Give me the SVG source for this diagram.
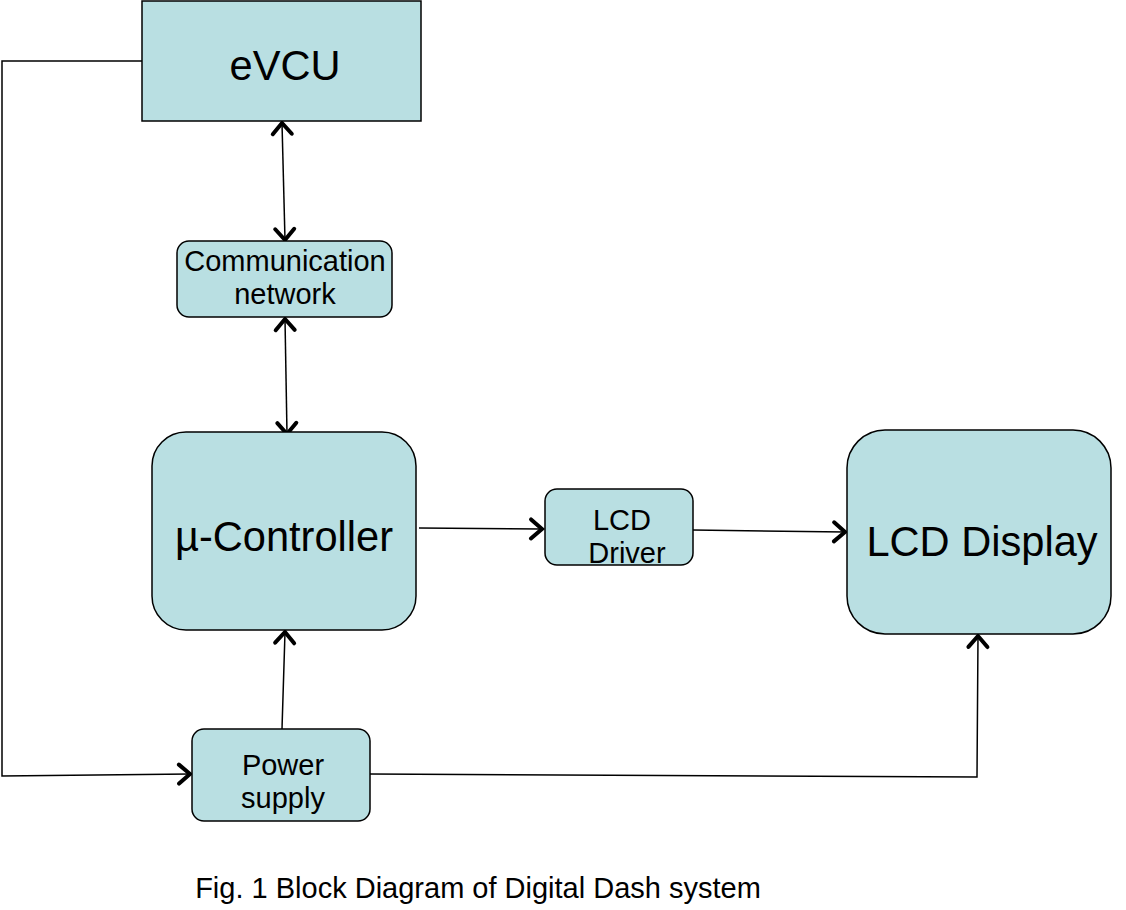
<svg xmlns="http://www.w3.org/2000/svg" width="1126" height="910" viewBox="0 0 1126 910">
<style>
.box{fill:#b9dfe2;stroke:#000;stroke-width:1.5}
.t{font-family:"Liberation Sans",Arial,sans-serif;fill:#000;text-anchor:middle}
.big{font-size:41.6px}
.mid{font-size:29px}
.c{fill:none;stroke:#000;stroke-width:1.5}
</style>
<defs>
<marker id="a" markerUnits="userSpaceOnUse" markerWidth="30" markerHeight="30" refX="15" refY="15" orient="auto-start-reverse" viewBox="0 0 30 30" overflow="visible">
<path d="M4,5.5 L15,15 L4,24.5" fill="none" stroke="#000" stroke-width="4" stroke-linecap="round" stroke-linejoin="miter"/>
</marker>
</defs>
<rect width="1126" height="910" fill="#fff"/>
<g id="connectors">
<polyline class="c" points="142,61 2,61 2,776 190,774" marker-end="url(#a)"/>
<line class="c" x1="282" y1="123" x2="285" y2="240" marker-start="url(#a)" marker-end="url(#a)"/>
<line class="c" x1="285" y1="319" x2="287" y2="434" marker-start="url(#a)" marker-end="url(#a)"/>
<line class="c" x1="419" y1="528" x2="542" y2="529" marker-end="url(#a)"/>
<line class="c" x1="693" y1="530" x2="845" y2="532" marker-end="url(#a)"/>
<line class="c" x1="282" y1="729" x2="285" y2="632" marker-end="url(#a)"/>
<polyline class="c" points="370,774 977,777 978,636" marker-end="url(#a)"/>
</g>
<g id="evcu">
<rect class="box" x="142" y="1" width="279" height="120"/>
<text class="t big" x="285" y="80">eVCU</text>
</g>
<g id="comm">
<rect class="box" x="177" y="241" width="215" height="76" rx="12"/>
<text class="t mid" x="285" y="271">Communication</text>
<text class="t mid" x="285" y="304">network</text>
</g>
<g id="controller">
<rect class="box" x="152" y="432" width="264" height="198" rx="34"/>
<text class="t big" x="284" y="551">µ-Controller</text>
</g>
<g id="driver">
<rect class="box" x="545" y="489" width="148" height="76" rx="12"/>
<text class="t mid" x="622" y="530">LCD</text>
<text class="t mid" x="627" y="563">Driver</text>
</g>
<g id="display">
<rect class="box" x="847" y="430" width="264" height="204" rx="38"/>
<text class="t big" x="982" y="556">LCD Display</text>
</g>
<g id="power">
<rect class="box" x="192" y="729" width="178" height="92" rx="12"/>
<text class="t mid" x="283" y="775">Power</text>
<text class="t mid" x="283" y="808">supply</text>
</g>
<text class="t mid" x="478" y="898">Fig. 1 Block Diagram of Digital Dash system</text>
</svg>
